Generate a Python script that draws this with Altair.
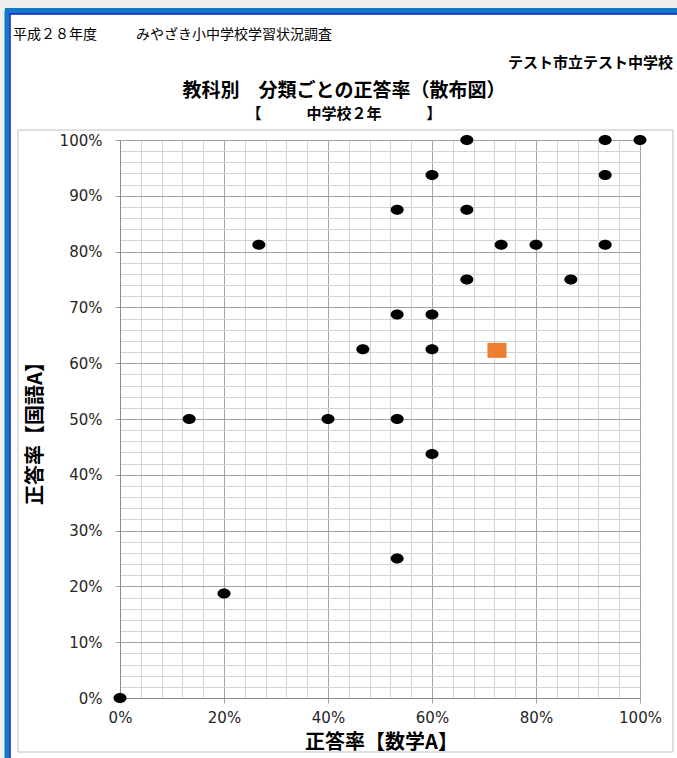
import altair as alt
import pandas as pd

# ---- data ----
math_a = [1.0, 0.933, 0.667, 0.6, 0.933, 0.533, 0.667, 0.267, 0.733, 0.8, 0.933, 0.667,
          0.867, 0.533, 0.6, 0.467, 0.6, 0.133, 0.4, 0.533, 0.6, 0.533, 0.2, 0.0]
kokugo_a = [1.0, 1.0, 1.0, 0.9375, 0.9375, 0.875, 0.875, 0.8125, 0.8125, 0.8125, 0.8125, 0.75,
            0.75, 0.6875, 0.6875, 0.625, 0.625, 0.5, 0.5, 0.5, 0.4375, 0.25, 0.1875, 0.0]
avg_math = [0.725]
avg_kokugo = [0.623]

header_year = "平成２８年度"
header_survey = "みやざき小中学校学習状況調査"
header_school = "テスト市立テスト中学校"
title_main = "教科別　分類ごとの正答率（散布図）"
title_sub = "【　　　中学校２年　　　】"
x_title = "正答率【数学A】"
y_title = "正答率【国語A】"

x_ticks = [i / 25 for i in range(26)]   # minor every 4%, major every 20%
y_ticks = [i / 50 for i in range(51)]   # minor every 2%, major every 10%

W, H = 520, 558
JP = "Noto Sans CJK JP"

pts = pd.DataFrame({"math": math_a, "kokugo": kokugo_a})
avg = pd.DataFrame({"math": avg_math, "kokugo": avg_kokugo})


def make_axis(vals, k, title, tx, ty, pad, tsize):
    major = f"abs(datum.value * {k} - round(datum.value * {k})) < 0.001"
    return alt.Axis(
        values=vals,
        tickCount=200,
        title=title,
        labelExpr=f"({major}) ? format(datum.value, '.0%') : ''",
        labelOverlap=False,
        labelFlush=False,
        labelBound=False,
        grid=True,
        gridColor={"condition": {"test": major, "value": "#a3a3a3"}, "value": "#d4d4d4"},
        gridWidth=1,
        ticks=True,
        tickSize=5,
        tickColor="#a3a3a3",
        tickOpacity={"condition": {"test": major, "value": 1}, "value": 0},
        domainColor="#8c8c8c",
        labelFont="DejaVu Sans",
        labelFontSize=15,
        labelColor="#262626",
        labelPadding=pad,
        titleFont=JP,
        titleFontWeight="bold",
        titleFontSize=tsize,
        titleColor="#000000",
        titleX=tx,
        titleY=ty,
        titleAlign="center",
        titleBaseline="middle",
    )


xscale = alt.Scale(domain=[0, 1], nice=False, zero=False)
yscale = alt.Scale(domain=[0, 1], nice=False, zero=False)

ellipse = "M-1.3,0A1.3,1,0,1,0,1.3,0A1.3,1,0,1,0,-1.3,0Z"
rect = "M-1.27,-1H1.27V1H-1.27Z"

points = alt.Chart(pts).mark_point(
    shape=ellipse, filled=True, color="#000000", opacity=1, size=100
).encode(
    x=alt.X("math:Q", scale=xscale, axis=make_axis(x_ticks, 5, x_title, 261, 44, 7, 20)),
    y=alt.Y("kokugo:Q", scale=yscale, axis=make_axis(y_ticks, 10, y_title, -85, 288, 13, 20)),
)

average = alt.Chart(avg).mark_point(
    shape=rect, filled=True, color="#ED7D31", opacity=1, size=225
).encode(x="math:Q", y="kokugo:Q")


def label(text, x, y, size, weight="normal", align="left"):
    return alt.Chart(pd.DataFrame({"t": [text]})).mark_text(
        align=align, baseline="middle", font=JP, fontSize=size,
        fontWeight=weight, color="#000000"
    ).encode(text="t:N", x=alt.value(x), y=alt.value(y))


one = pd.DataFrame({"a": [0]})

frame = alt.Chart(one).mark_rect(
    fillOpacity=0, stroke="#bfbfbf", strokeWidth=1
).encode(x=alt.value(-102), x2=alt.value(553), y=alt.value(-10), y2=alt.value(612))

top_strip = alt.Chart(one).mark_rect(fill="#efefef").encode(
    x=alt.value(-120), x2=alt.value(557), y=alt.value(-140), y2=alt.value(-132))
left_strip = alt.Chart(one).mark_rect(fill="#efefef").encode(
    x=alt.value(-120), x2=alt.value(-115), y=alt.value(-140), y2=alt.value(618))

blue_top = alt.Chart(one).mark_rule(
    color="#1478c8", strokeWidth=6
).encode(x=alt.value(-115), x2=alt.value(557), y=alt.value(-129))
blue_top_line = alt.Chart(one).mark_rule(
    color="#0a1ec8", strokeWidth=1.5
).encode(x=alt.value(-111), x2=alt.value(557), y=alt.value(-126))
blue_left = alt.Chart(one).mark_rule(
    color="#1478c8", strokeWidth=5
).encode(x=alt.value(-113), y=alt.value(-130), y2=alt.value(618))
blue_left_line = alt.Chart(one).mark_rule(
    color="#0a1ec8", strokeWidth=1.5
).encode(x=alt.value(-110), y=alt.value(-126), y2=alt.value(618))

chart = alt.layer(
    top_strip,
    left_strip,
    frame,
    points,
    average,
    blue_top,
    blue_left,
    blue_top_line,
    blue_left_line,
    label(header_year, -107, -105, 14),
    label(header_survey, 16, -105, 14),
    label(header_school, 388, -77, 15, "bold"),
    label(title_main, 224, -49, 19, "bold", "center"),
    label(title_sub, 224, -26, 15, "bold", "center"),
).properties(
    width=W,
    height=H,
    padding={"left": 120, "top": 140, "right": 37, "bottom": 60},
    autosize=alt.AutoSizeParams(type="none"),
    background="#ffffff",
).configure_view(strokeWidth=0)

chart.save("out.html", embed_options={"renderer": "svg", "actions": False})
